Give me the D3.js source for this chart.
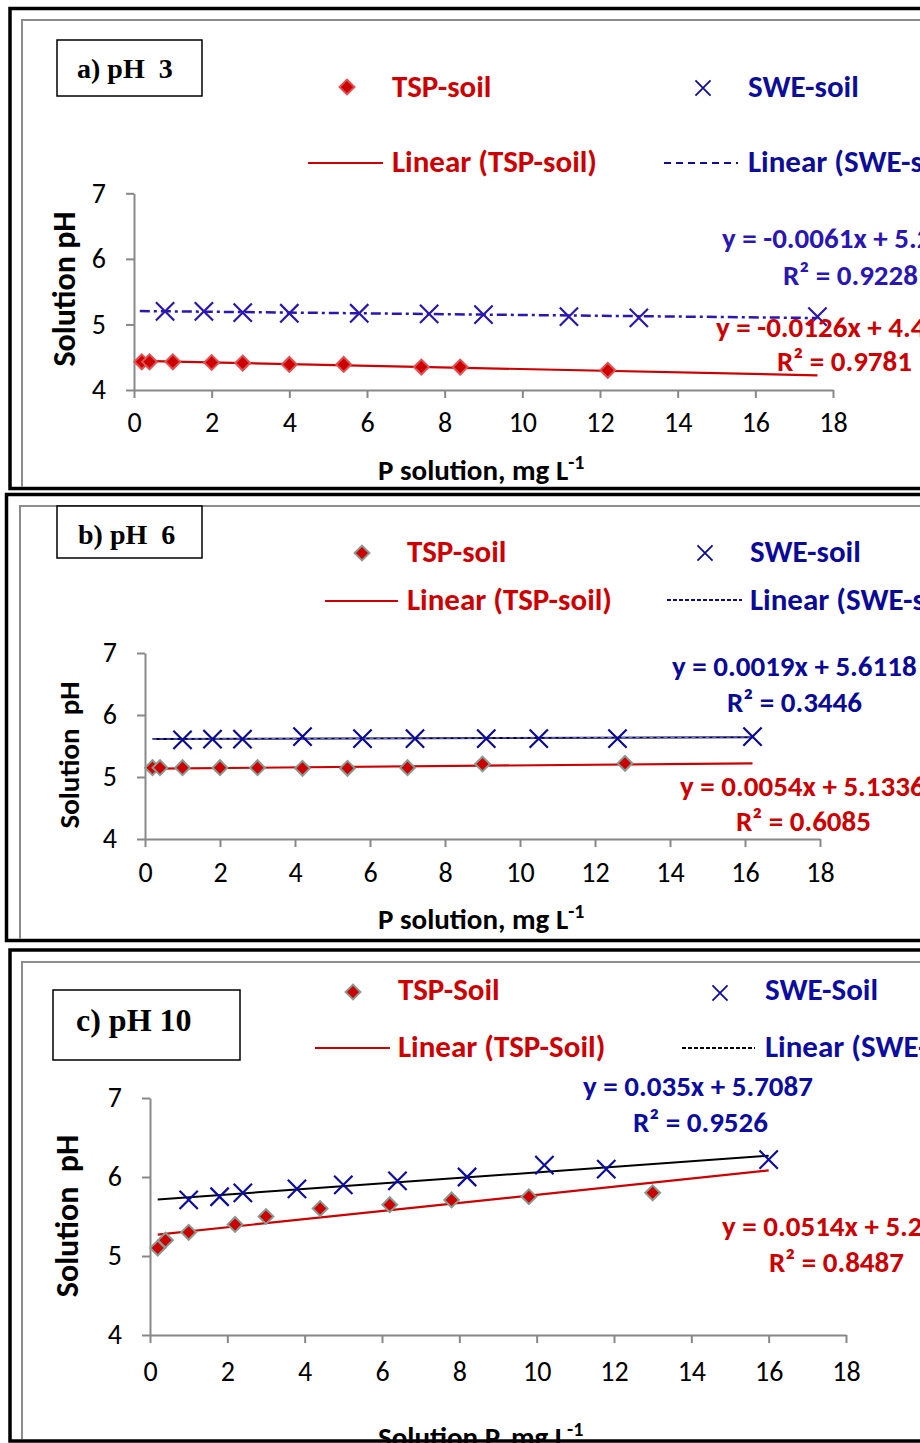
<!DOCTYPE html>
<html>
<head>
<meta charset="utf-8">
<script src="https://cdn.jsdelivr.net/npm/d3@7"></script>
<style>
body { margin: 0; background: #fff; }
svg text { white-space: pre; }
</style>
</head>
<body>
<div id="chart"></div>
<script>
// axis ticks, same for the three panels
var xTicks = [0, 2, 4, 6, 8, 10, 12, 14, 16, 18];
var yTicks = [4, 5, 6, 7];

// a) pH 3
var tspA_x = [0.2, 0.4, 1, 2, 2.8, 4, 5.4, 7.4, 8.4, 12.2];
var tspA_y = [4.43, 4.43, 4.43, 4.42, 4.41, 4.39, 4.39, 4.35, 4.35, 4.30];
var sweA_x = [0.8, 1.8, 2.8, 4, 5.8, 7.6, 9, 11.2, 13, 17.6];
var sweA_y = [5.2, 5.2, 5.18, 5.17, 5.17, 5.16, 5.15, 5.12, 5.1, 5.12];
var fitA_tsp = [-0.0126, 4.4452, 0.9781];
var fitA_swe = [-0.0061, 5.2053, 0.9228];
var trendA = [0.15, 17.6];

// b) pH 6
var tspB_x = [0.2, 0.4, 1, 2, 3, 4.2, 5.4, 7, 9, 12.8];
var tspB_y = [5.15, 5.15, 5.15, 5.15, 5.15, 5.14, 5.14, 5.15, 5.21, 5.22];
var sweB_x = [1, 1.8, 2.6, 4.2, 5.8, 7.2, 9.1, 10.5, 12.6, 16.2];
var sweB_y = [5.6, 5.61, 5.61, 5.65, 5.62, 5.62, 5.62, 5.62, 5.62, 5.65];
var fitB_tsp = [0.0054, 5.1336, 0.6085];
var fitB_swe = [0.0019, 5.6118, 0.3446];
var trendB = [0.2, 16.2];

// c) pH 10
var tspC_x = [0.2, 0.4, 1, 2.2, 3, 4.4, 6.2, 7.8, 9.8, 13];
var tspC_y = [5.1, 5.2, 5.3, 5.4, 5.5, 5.6, 5.65, 5.71, 5.75, 5.8];
var sweC_x = [1, 1.8, 2.4, 3.8, 5, 6.4, 8.2, 10.2, 11.8, 16];
var sweC_y = [5.71, 5.75, 5.8, 5.85, 5.9, 5.95, 6.0, 6.15, 6.1, 6.22];
var fitC_tsp = [0.0514, 5.2608, 0.8487];
var fitC_swe = [0.035, 5.7087, 0.9526];
var trendC = [0.2, 16];

var sans = "Carlito, Lato, sans-serif";
var serif = "'Liberation Serif', 'Times New Roman', serif";
var red = "#cc0000";

function pts(xs, ys) {
    return xs.map(function(d, i){ return {x: d, y: ys[i]}; });
}
function eqText(f) {
    return "y = " + f[0] + "x + " + f[1];
}

var panels = [
  {
    label: "a) pH  3", labelSize: 28, box: [57, 40, 145, 56], labelPos: [77, 78],
    frame: [10, 8.5, 488.5], inner: [22, 20],
    xr: [134, 833], yr: [390, 193.3], xPad: 14,
    tsp: pts(tspA_x, tspA_y), swe: pts(sweA_x, sweA_y),
    fitTsp: fitA_tsp, fitSwe: fitA_swe, trend: trendA,
    names: ["TSP-soil", "SWE-soil", "Linear (TSP-soil)", "Linear (SWE-soil)"],
    leg: {diamond: [347, 87], cross: [703, 88], tx1: 392, tx2: 748, y1: 97, y2: 172,
          l1: [308, 383, 163], l2: [664, 738, 163]},
    eqSwe: [722, 248, 783, 285], eqTsp: [716, 337, 777, 371],
    blue: "#2a17b1", legBlue: "#0d0d96", sweLine: "dashdot", legDash: "7,5",
    diamondStroke: "#e05050",
    xTitle: "P solution, mg L", xTitlePos: [378, 480], yTitle: "Solution pH", yTitleSize: 32, yTitlePos: [75, 289]
  },
  {
    label: "b) pH  6", labelSize: 28, box: [57, 506, 145, 52], labelPos: [78, 544],
    frame: [6.5, 494.5, 940.5], inner: [20, 506],
    xr: [145, 820], yr: [839, 653], xPad: 15,
    tsp: pts(tspB_x, tspB_y), swe: pts(sweB_x, sweB_y),
    fitTsp: fitB_tsp, fitSwe: fitB_swe, trend: trendB,
    names: ["TSP-soil", "SWE-soil", "Linear (TSP-soil)", "Linear (SWE-soil)"],
    leg: {diamond: [362, 553], cross: [705, 553], tx1: 407, tx2: 750, y1: 562, y2: 610,
          l1: [325, 398, 601], l2: [667, 742, 600]},
    eqSwe: [672, 676, 727, 712], eqTsp: [680, 796, 736, 831],
    blue: "#0a0a96", legBlue: "#0a0a96", sweLine: "blackdash", legDash: "4,2",
    diamondStroke: "#8a9a90",
    xTitle: "P solution, mg L", xTitlePos: [378, 929], yTitle: "Solution  pH", yTitleSize: 29, yTitlePos: [79, 755]
  },
  {
    label: "c) pH 10", labelSize: 32, box: [53, 990, 187, 70], labelPos: [76, 1031],
    frame: [10, 950, 1441], inner: [22, 962],
    xr: [150, 846], yr: [1335, 1098], xPad: 18,
    tsp: pts(tspC_x, tspC_y), swe: pts(sweC_x, sweC_y),
    fitTsp: fitC_tsp, fitSwe: fitC_swe, trend: trendC,
    names: ["TSP-Soil", "SWE-Soil", "Linear (TSP-Soil)", "Linear (SWE-Soil)"],
    leg: {diamond: [353, 992], cross: [720, 993], tx1: 398, tx2: 765, y1: 1000, y2: 1057,
          l1: [315, 390, 1048], l2: [682, 755, 1048]},
    eqSwe: [583, 1096, 633, 1132], eqTsp: [722, 1236, 769, 1272],
    blue: "#0c0ca0", legBlue: "#0c0ca0", sweLine: "black", legDash: "4,2", legDashColor: "#000",
    diamondStroke: "#8a9a90",
    xTitle: "Solution P, mg L", xTitlePos: [378, 1447], yTitle: "Solution  pH", yTitleSize: 32, yTitlePos: [78, 1216]
  }
];

var svg = d3.select("#chart").append("svg")
    .attr("width", 920)
    .attr("height", 1443);

var diamond = d3.symbol().type(d3.symbolSquare).size(110);
var cross = d3.symbol().type(d3.symbolTimes).size(220);

panels.forEach(function(p){
    var g = svg.append("g");

    var x = d3.scaleLinear().domain([0, 18]).range(p.xr);
    var y = d3.scaleLinear().domain([4, 7]).range(p.yr);

    // inner grey border (left + top), then the heavy black frame
    g.append("path")
        .attr("d", "M" + p.inner[0] + "," + (p.frame[2] - 2) + "V" + p.inner[1] + "H930")
        .attr("fill", "none")
        .attr("stroke", "#8c8c8c")
        .attr("stroke-width", 2);
    g.append("rect")
        .attr("x", p.frame[0])
        .attr("y", p.frame[1])
        .attr("width", 1000)
        .attr("height", p.frame[2] - p.frame[1])
        .attr("fill", "none")
        .attr("stroke", "#000")
        .attr("stroke-width", 3.5);

    // panel label box
    g.append("rect")
        .attr("x", p.box[0]).attr("y", p.box[1])
        .attr("width", p.box[2]).attr("height", p.box[3])
        .attr("fill", "#fff").attr("stroke", "#000").attr("stroke-width", 1.5);
    g.append("text")
        .attr("x", p.labelPos[0]).attr("y", p.labelPos[1])
        .attr("font-family", serif).attr("font-weight", "bold")
        .attr("font-size", p.labelSize)
        .text(p.label);

    // axes
    var xa = g.append("g")
        .attr("transform", "translate(0," + p.yr[0] + ")")
        .call(d3.axisBottom(x).tickValues(xTicks).tickSize(8).tickSizeOuter(0).tickPadding(p.xPad));
    var ya = g.append("g")
        .attr("transform", "translate(" + p.xr[0] + ",0)")
        .call(d3.axisLeft(y).tickValues(yTicks).tickFormat(d3.format("d"))
            .tickSize(8).tickSizeOuter(0).tickPadding(20));
    [xa, ya].forEach(function(a){
        a.attr("font-family", sans).attr("font-size", 28);
        a.select(".domain").attr("stroke", "#888").attr("stroke-width", 2);
        a.selectAll(".tick line").attr("stroke", "#888").attr("stroke-width", 2);
        a.selectAll(".tick text").attr("fill", "#000");
    });

    // axis titles
    var xt = g.append("text")
        .attr("x", p.xTitlePos[0]).attr("y", p.xTitlePos[1])
        .attr("font-family", sans).attr("font-weight", "bold").attr("font-size", 29)
        .text(p.xTitle);
    xt.append("tspan").attr("dy", -11).attr("font-size", 20).text("-1");
    g.append("text")
        .attr("transform", "translate(" + p.yTitlePos[0] + "," + p.yTitlePos[1] + ") rotate(-90)")
        .attr("text-anchor", "middle")
        .attr("font-family", sans).attr("font-weight", "bold").attr("font-size", p.yTitleSize)
        .text(p.yTitle);

    // trend lines from the fitted equations
    var tspLine = d3.line().x(function(d){ return x(d); })
        .y(function(d){ return y(p.fitTsp[0] * d + p.fitTsp[1]); })(p.trend);
    var sweLine = d3.line().x(function(d){ return x(d); })
        .y(function(d){ return y(p.fitSwe[0] * d + p.fitSwe[1]); })(p.trend);

    if (p.sweLine == "dashdot") {
        g.append("path").attr("d", sweLine).attr("fill", "none")
            .attr("stroke", p.blue).attr("stroke-width", 2.5)
            .attr("stroke-dasharray", "10,4,3,4");
    } else if (p.sweLine == "blackdash") {
        g.append("path").attr("d", sweLine).attr("fill", "none")
            .attr("stroke", "#000033").attr("stroke-width", 2);
        g.append("path").attr("d", sweLine).attr("fill", "none")
            .attr("stroke", "#6a6aff").attr("stroke-width", 1.2)
            .attr("stroke-dasharray", "4,3");
    } else {
        g.append("path").attr("d", sweLine).attr("fill", "none")
            .attr("stroke", "#000").attr("stroke-width", 2);
    }
    g.append("path").attr("d", tspLine).attr("fill", "none")
        .attr("stroke", red).attr("stroke-width", 2.2);

    // markers
    g.selectAll("path.tsp")
        .data(p.tsp)
        .enter()
        .append("path")
        .attr("class", "tsp")
        .attr("d", diamond)
        .attr("transform", function(d){
            return "translate(" + x(d.x) + "," + y(d.y) + ") rotate(45)";
        })
        .attr("fill", red)
        .attr("stroke", p.diamondStroke)
        .attr("stroke-width", 2);
    g.selectAll("path.swe")
        .data(p.swe)
        .enter()
        .append("path")
        .attr("class", "swe")
        .attr("d", cross)
        .attr("transform", function(d){
            return "translate(" + x(d.x) + "," + y(d.y) + ")";
        })
        .attr("stroke", p.blue)
        .attr("stroke-width", 2.2);

    // legend
    var L = p.leg;
    g.append("path").attr("d", diamond)
        .attr("transform", "translate(" + L.diamond[0] + "," + L.diamond[1] + ") rotate(45)")
        .attr("fill", red).attr("stroke", p.diamondStroke).attr("stroke-width", 2);
    g.append("path").attr("d", d3.symbol().type(d3.symbolTimes).size(150))
        .attr("transform", "translate(" + L.cross[0] + "," + L.cross[1] + ")")
        .attr("stroke", p.legBlue).attr("stroke-width", 1.8);
    g.append("line")
        .attr("x1", L.l1[0]).attr("x2", L.l1[1]).attr("y1", L.l1[2]).attr("y2", L.l1[2])
        .attr("stroke", red).attr("stroke-width", 2);
    g.append("line")
        .attr("x1", L.l2[0]).attr("x2", L.l2[1]).attr("y1", L.l2[2]).attr("y2", L.l2[2])
        .attr("stroke", p.legDashColor || p.legBlue).attr("stroke-width", 2)
        .attr("stroke-dasharray", p.legDash);

    var legText = [
        [L.tx1, L.y1, p.names[0], red],
        [L.tx2, L.y1, p.names[1], p.legBlue],
        [L.tx1, L.y2, p.names[2], red],
        [L.tx2, L.y2, p.names[3], p.legBlue]
    ];
    g.selectAll("text.leg")
        .data(legText)
        .enter()
        .append("text")
        .attr("class", "leg")
        .attr("x", function(d){ return d[0]; })
        .attr("y", function(d){ return d[1]; })
        .attr("fill", function(d){ return d[3]; })
        .attr("font-family", sans).attr("font-weight", "bold").attr("font-size", 31)
        .text(function(d){ return d[2]; });

    // regression equations
    var eqs = [
        [p.eqSwe[0], p.eqSwe[1], eqText(p.fitSwe), p.blue],
        [p.eqSwe[2], p.eqSwe[3], "R² = " + p.fitSwe[2], p.blue],
        [p.eqTsp[0], p.eqTsp[1], eqText(p.fitTsp), red],
        [p.eqTsp[2], p.eqTsp[3], "R² = " + p.fitTsp[2], red]
    ];
    g.selectAll("text.eq")
        .data(eqs)
        .enter()
        .append("text")
        .attr("class", "eq")
        .attr("x", function(d){ return d[0]; })
        .attr("y", function(d){ return d[1]; })
        .attr("fill", function(d){ return d[3]; })
        .attr("font-family", sans).attr("font-weight", "bold").attr("font-size", 29)
        .text(function(d){ return d[2]; });
});
</script>
</body>
</html>
